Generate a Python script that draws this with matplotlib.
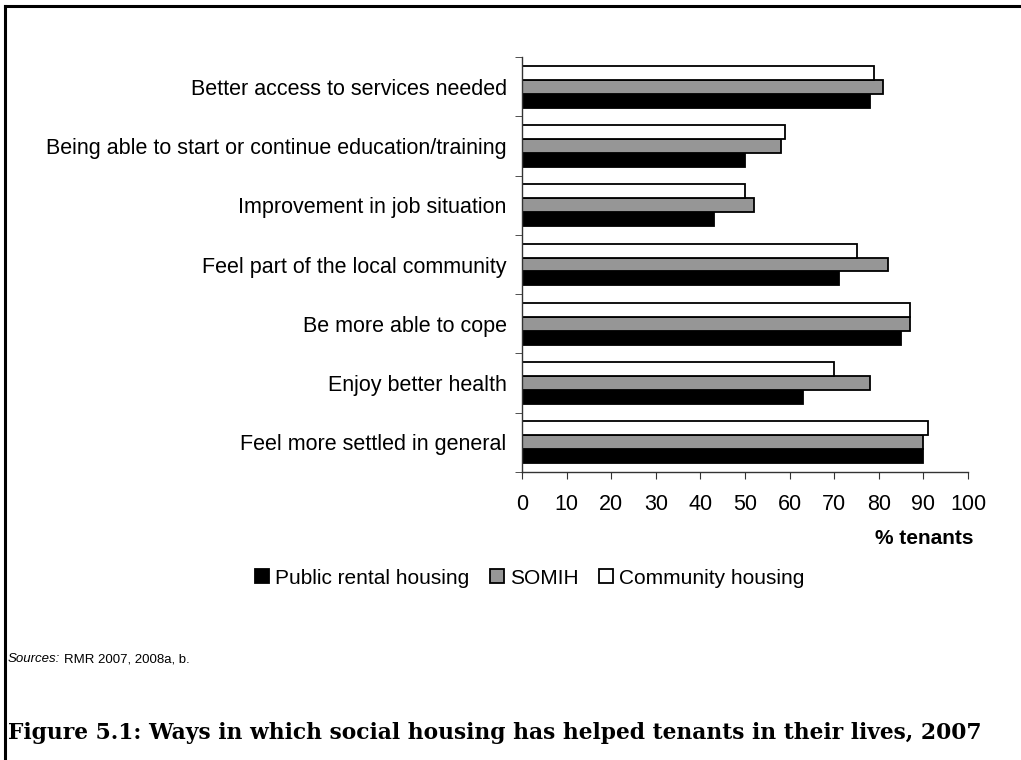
import matplotlib
matplotlib.use("Agg")
import matplotlib.pyplot as plt
import numpy as np
from matplotlib.lines import Line2D

categories = [
    "Better access to services needed",
    "Being able to start or continue education/training",
    "Improvement in job situation",
    "Feel part of the local community",
    "Be more able to cope",
    "Enjoy better health",
    "Feel more settled in general",
]
public_rental = [78, 50, 43, 71, 85, 63, 90]
somih = [81, 58, 52, 82, 87, 78, 90]
community = [79, 59, 50, 75, 87, 70, 91]
series_names = ["Public rental housing", "SOMIH", "Community housing"]
xticks = list(range(0, 101, 10))

plt.rcParams['font.family'] = ['Liberation Sans', 'DejaVu Sans']

fig = plt.figure(figsize=(10.21, 7.6), dpi=100)
ax = fig.add_axes([522/1021, 1-472/760, (968-522)/1021, (472-57)/760])

y = np.arange(len(categories))
h = 0.235
kw = dict(height=h, edgecolor='black', linewidth=1.3)
ax.barh(y + h, public_rental, color='black', label=series_names[0], **kw)
ax.barh(y, somih, color='#969696', label=series_names[1], **kw)
ax.barh(y - h, community, color='white', label=series_names[2], **kw)

ax.set_ylim(len(categories) - 0.5, -0.5)
ax.set_xlim(0, 100)
ax.set_xticks(xticks)
ax.set_xticklabels([str(t) for t in xticks], fontsize=15.5)
ax.set_yticks(y)
ax.set_yticklabels(categories, fontsize=15.5)
ax.tick_params(axis='y', length=0, pad=11)
ax.set_yticks(np.arange(-0.5, len(categories), 1), minor=True)
ax.tick_params(axis='y', which='minor', length=5, direction='out', color='#333333')
ax.tick_params(axis='x', length=5, direction='out', color='#333333', pad=11)
for s in ['top', 'right']:
    ax.spines[s].set_visible(False)
for s in ['left', 'bottom']:
    ax.spines[s].set_color('#333333')
    ax.spines[s].set_linewidth(1.0)

fig.text(973/1021, 1-538/760, "% tenants", ha='right', va='center',
         fontsize=15, fontweight='bold')

handles, labels = ax.get_legend_handles_labels()
fig.legend(handles, labels, loc='center', bbox_to_anchor=(530/1021, 1-578/760),
           ncol=3, frameon=False, fontsize=15, handlelength=0.65,
           handleheight=0.65, handletextpad=0.3, columnspacing=1.0)

t1 = fig.text(8/1021, 1-662/760, "Sources:", fontsize=9.5, style='italic',
              ha='left', va='baseline')
fig.canvas.draw()
bb = t1.get_window_extent()
fig.text((bb.x1 + 4)/1021, 1-662/760, "RMR 2007, 2008a, b.", fontsize=9.5,
         ha='left', va='baseline')

fig.text(8/1021, 1-733/760,
         "Figure 5.1: Ways in which social housing has helped tenants in their lives, 2007",
         fontsize=15.7, fontweight='bold', family=['DejaVu Serif'],
         ha='left', va='center')

# outer frame (left and top)
fig.add_artist(Line2D([5/1021, 5/1021], [0, 1-6/760], transform=fig.transFigure,
                      color='black', linewidth=2.2))
fig.add_artist(Line2D([5/1021, 1], [1-6/760, 1-6/760], transform=fig.transFigure,
                      color='black', linewidth=2.2))

fig.savefig("out.png", dpi=100)
